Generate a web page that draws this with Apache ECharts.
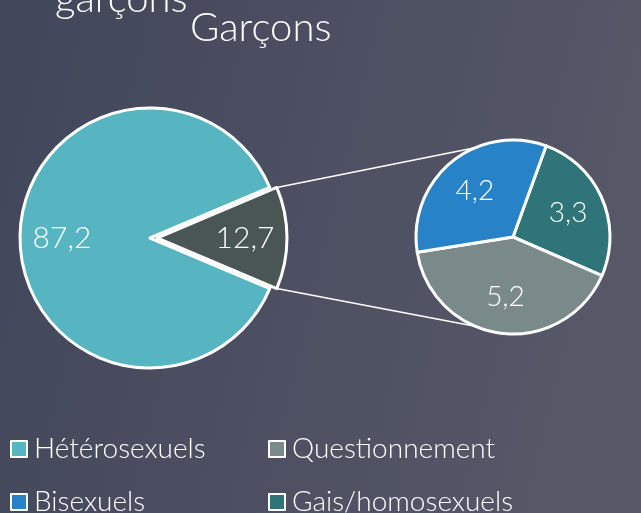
<!DOCTYPE html>
<html>
<head>
<meta charset="utf-8">
<script src="https://cdn.jsdelivr.net/npm/echarts@6/dist/echarts.min.js"></script>
<style>
  html, body { margin: 0; padding: 0; }
  #chart { width: 641px; height: 513px; }
</style>
</head>
<body>
<div id="chart"></div>
<script>
// données
const mainNames = ['Autres', 'Hétérosexuels'];
const mainValues = [12.7, 87.2];
const subNames = ['Gais/homosexuels', 'Questionnement', 'Bisexuels'];
const subValues = [3.3, 5.2, 4.2];
const legendNames = ['Hétérosexuels', 'Questionnement', 'Bisexuels', 'Gais/homosexuels'];

const colors = {
  'Autres': '#4a5654',
  'Hétérosexuels': '#56b5c0',
  'Gais/homosexuels': '#2e7478',
  'Questionnement': '#7a8a8a',
  'Bisexuels': '#2782c8'
};

const FONT = 'Lato';
const fmt = p => String(p.value).replace('.', ',');

// géométrie
const L = { cx: 150, cy: 238, r: 130, off: 7 };
const R = { cx: 513, cy: 237, r: 97 };
const total = mainValues.reduce((a, b) => a + b, 0);
const half = mainValues[0] / total * 180;
const linkAngle = 113;

const rad = d => d * Math.PI / 180;
const p1 = [L.cx + L.off + L.r * Math.cos(rad(half)), L.cy - L.r * Math.sin(rad(half))];
const p2 = [L.cx + L.off + L.r * Math.cos(rad(half)), L.cy + L.r * Math.sin(rad(half))];
const q1 = [R.cx + R.r * Math.cos(rad(linkAngle)), R.cy - R.r * Math.sin(rad(linkAngle))];
const q2 = [R.cx + R.r * Math.cos(rad(linkAngle)), R.cy + R.r * Math.sin(rad(linkAngle))];

const mainData = mainNames.map((n, i) => ({
  name: n, value: mainValues[i], selected: i === 0,
  itemStyle: { color: colors[n] }
}));
const subData = subNames.map((n, i) => ({
  name: n, value: subValues[i], itemStyle: { color: colors[n] }
}));

const labelStyle = size => ({
  show: true, position: 'inside', formatter: fmt,
  color: '#fff', fontFamily: FONT, fontWeight: 300, fontSize: size
});

// légende en 2 colonnes : une légende par élément
const legendPos = [[5, 430], [263, 430], [5, 483], [263, 483]];
const legends = legendNames.map((n, i) => ({
  left: legendPos[i][0],
  top: legendPos[i][1],
  data: [n],
  icon: 'rect',
  itemWidth: 16, itemHeight: 16,
  itemGap: 0,
  selectedMode: false,
  itemStyle: { borderColor: '#fff', borderWidth: 2 },
  textStyle: { color: '#fff', fontFamily: FONT, fontWeight: 300, fontSize: 28, padding: [0, 0, 0, 2] }
}));

const chart = echarts.init(document.getElementById('chart'));
chart.setOption({
  backgroundColor: {
    type: 'linear', x: 0, y: 0, x2: 1, y2: 0.3,
    colorStops: [
      { offset: 0, color: '#42465a' },
      { offset: 1, color: '#565868' }
    ]
  },
  legend: legends,
  graphic: [
    { type: 'text', x: 55, y: -21, style: { text: 'garçons', fill: '#fff', font: '300 40px ' + FONT } },
    { type: 'text', x: 190, y: 8, style: { text: 'Garçons', fill: '#fff', font: '300 40px ' + FONT } },
    { type: 'line', shape: { x1: p1[0], y1: p1[1], x2: q1[0], y2: q1[1] }, style: { stroke: '#fff', lineWidth: 1.5 }, z: 1 },
    { type: 'line', shape: { x1: p2[0], y1: p2[1], x2: q2[0], y2: q2[1] }, style: { stroke: '#fff', lineWidth: 1.5 }, z: 1 }
  ],
  series: [
    {
      type: 'pie',
      center: [L.cx, L.cy],
      radius: [0, L.r],
      startAngle: half,
      selectedMode: 'single',
      selectedOffset: L.off,
      animation: false,
      silent: true,
      itemStyle: { borderColor: '#fff', borderWidth: 3 },
      label: { show: false },
      labelLine: { show: false },
      data: mainData
    },
    {
      type: 'pie',
      center: [R.cx, R.cy],
      radius: [0, R.r],
      startAngle: 70,
      animation: false,
      silent: true,
      itemStyle: { borderColor: '#fff', borderWidth: 3 },
      label: { show: false },
      labelLine: { show: false },
      data: subData
    },
    {
      // étiquettes du premier camembert
      type: 'pie',
      center: [L.cx, L.cy],
      radius: [40, L.r],
      startAngle: half,
      selectedMode: 'single',
      selectedOffset: L.off,
      animation: false,
      silent: true,
      itemStyle: { color: 'transparent', borderWidth: 0 },
      label: labelStyle(30),
      labelLine: { show: false },
      data: mainData.map(d => ({ name: d.name, value: d.value, selected: d.selected }))
    },
    {
      // étiquettes du second camembert
      type: 'pie',
      center: [R.cx, R.cy],
      radius: [17, R.r],
      startAngle: 70,
      animation: false,
      silent: true,
      itemStyle: { color: 'transparent', borderWidth: 0 },
      label: labelStyle(28),
      labelLine: { show: false },
      data: subData.map(d => ({ name: d.name, value: d.value }))
    }
  ]
});
</script>
</body>
</html>
